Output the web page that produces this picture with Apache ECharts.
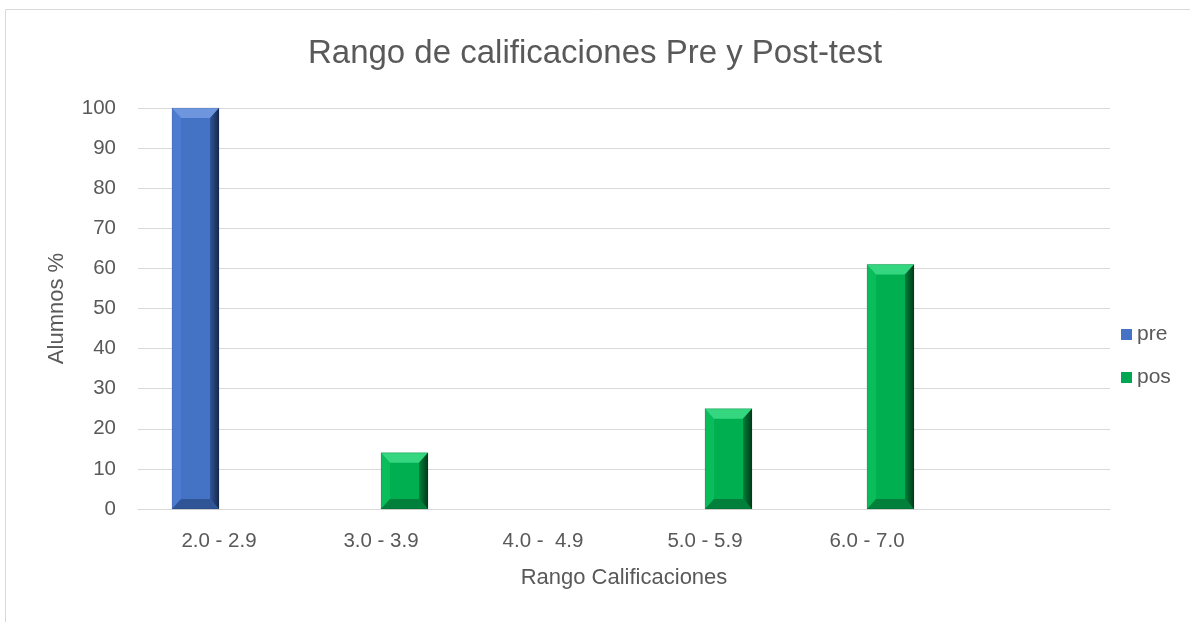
<!DOCTYPE html>
<html>
<head>
<meta charset="utf-8">
<script src="https://cdn.jsdelivr.net/npm/echarts@6/dist/echarts.min.js"></script>
<style>
html, body { margin: 0; padding: 0; background: #fff; }
#chart { width: 1190px; height: 622px; }
</style>
</head>
<body>
<div id="chart"></div>
<script>
// categories (last slot is an empty one, as in the original sheet)
const categories = ['2.0 - 2.9', '3.0 - 3.9', '4.0 -  4.9', '5.0 - 5.9', '6.0 - 7.0', ''];
const preValues = [100, null, null, null, null, null];
const posValues = [null, 14, null, 25, 61, null];

const textColor = '#595959';
const font = 'Liberation Sans';

// bevelled bar, side = -1 (left half of band) or 1 (right half)
function bevelBar(base, leftC, light, dark, darker, side) {
	return function (params, api) {
		const v = api.value(1);
		if (v == null || isNaN(v) || v === 0) return;
		const idx = api.value(0);
		const band = api.size([1, 0])[0];
		const w = band * 0.29;
		const top = api.coord([idx, v]);
		const bot = api.coord([idx, 0]);
		const x0 = side < 0 ? top[0] - w : top[0];
		const x1 = x0 + w;
		const y0 = top[1];
		const y1 = bot[1];
		const bv = Math.min(10, (y1 - y0) / 3);
		const bs = 9;
		return {
			type: 'group',
			children: [
				{ type: 'rect', shape: { x: x0, y: y0, width: w, height: y1 - y0 }, style: { fill: base } },
				{ type: 'polygon', shape: { points: [[x0, y0], [x0 + bs, y0 + bv], [x0 + bs, y1 - bv], [x0, y1]] }, style: { fill: leftC } },
				{ type: 'polygon', shape: { points: [[x0, y0], [x1, y0], [x1 - bs, y0 + bv], [x0 + bs, y0 + bv]] }, style: { fill: light } },
				{ type: 'polygon', shape: { points: [[x0, y1], [x1, y1], [x1 - bs, y1 - bv], [x0 + bs, y1 - bv]] }, style: { fill: dark } },
				{ type: 'polygon', shape: { points: [[x1, y0], [x1, y1], [x1 - bs, y1 - bv], [x1 - bs, y0 + bv]] }, style: {
					fill: new echarts.graphic.LinearGradient(0, 0, 1, 0, [{ offset: 0, color: dark }, { offset: 1, color: darker }]) } },
				{ type: 'rect', shape: { x: x0, y: y0, width: w, height: y1 - y0 }, style: { fill: 'none', stroke: 'rgba(0,0,0,0.12)', lineWidth: 1 } }
			]
		};
	};
}

const chart = echarts.init(document.getElementById('chart'));
chart.setOption({
	animation: false,
	backgroundColor: '#fff',
	graphic: [{
		type: 'rect',
		shape: { x: 5.5, y: 9.5, width: 1300, height: 700 },
		style: { fill: 'none', stroke: '#d9d9d9', lineWidth: 1 },
		silent: true
	}],
	title: {
		text: 'Rango de calificaciones Pre y Post-test',
		left: 'center',
		top: 32,
		textStyle: { color: textColor, fontFamily: font, fontSize: 33, fontWeight: 'normal' }
	},
	legend: {
		orient: 'vertical',
		left: 1116,
		top: 319,
		itemGap: 22,
		itemWidth: 11,
		itemHeight: 11,
		itemStyle: { borderWidth: 0 },
		icon: 'rect',
		textStyle: { color: textColor, fontFamily: font, fontSize: 21 },
		data: [
			{ name: 'pre', itemStyle: { color: '#4472c4' } },
			{ name: 'pos', itemStyle: { color: '#00a651' } }
		]
	},
	grid: { left: 138, right: 80, top: 108, bottom: 113 },
	xAxis: {
		type: 'category',
		data: categories,
		name: 'Rango Calificaciones',
		nameLocation: 'middle',
		nameGap: 58,
		nameTextStyle: { color: textColor, fontFamily: font, fontSize: 22 },
		axisTick: { show: false },
		axisLine: { lineStyle: { color: '#d9d9d9' } },
		axisLabel: { color: textColor, fontFamily: font, fontSize: 20.5, margin: 22 }
	},
	yAxis: {
		type: 'value',
		min: 0,
		max: 100,
		interval: 10,
		name: 'Alumnos %',
		nameLocation: 'middle',
		nameGap: 70,
		nameTextStyle: { color: textColor, fontFamily: font, fontSize: 22 },
		axisLine: { show: false },
		axisTick: { show: false },
		splitLine: { lineStyle: { color: '#d9d9d9', width: 1 } },
		axisLabel: { color: textColor, fontFamily: font, fontSize: 20.5, margin: 22 }
	},
	series: [
		{
			name: 'pre',
			type: 'custom',
			renderItem: bevelBar('#4472c4', '#4d7bd0', '#6e96de', '#2f5597', '#17284d', -1),
			encode: { x: 0, y: 1 },
			itemStyle: { color: '#4472c4' },
			data: preValues.map((v, i) => [i, v])
		},
		{
			name: 'pos',
			type: 'custom',
			renderItem: bevelBar('#00b050', '#08bd5a', '#34d680', '#00803a', '#003a19', 1),
			encode: { x: 0, y: 1 },
			itemStyle: { color: '#00a651' },
			data: posValues.map((v, i) => [i, v])
		}
	]
});
</script>
</body>
</html>
